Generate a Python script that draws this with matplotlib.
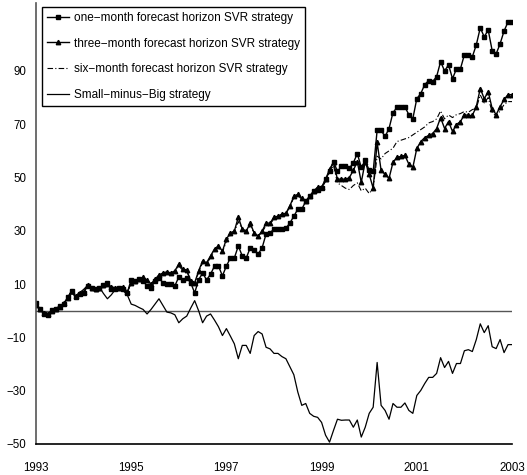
import numpy as np
import matplotlib
matplotlib.use("Agg")
import matplotlib.pyplot as plt

plt.rcParams["font.family"] = ["Liberation Sans", "DejaVu Sans"]

# monthly observations, Jan 1993 .. Jan 2003
dates = 1993 + np.arange(121) / 12

one_month = [
    3.0, 0.7, -1.2, -1.5, 0.3, 0.7, 1.9, 2.6, 5.0, 7.5,
    5.0, 6.4, 6.8, 9.3, 8.7, 8.1, 8.7, 9.5, 10.6, 8.1,
    8.1, 8.7, 8.1, 6.6, 11.5, 11.2, 11.8, 11.2, 9.3, 8.7,
    11.2, 12.4, 10.5, 10.0, 10.0, 9.3, 12.7, 11.6, 12.3, 10.5,
    6.7, 11.6, 14.2, 11.6, 13.7, 16.8, 16.8, 13.1, 16.8, 19.8,
    19.8, 24.3, 20.6, 19.8, 23.6, 22.8, 21.3, 23.6, 28.8, 29.2,
    30.7, 30.5, 30.7, 31.0, 32.9, 35.5, 38.1, 38.1, 41.1, 43.0,
    44.9, 45.5, 46.0, 49.3, 52.3, 56.0, 52.3, 54.2, 54.2, 53.5,
    55.5, 59.0, 53.8, 56.4, 52.7, 52.3, 67.7, 67.7, 65.4, 68.4,
    74.4, 76.3, 76.6, 76.5, 73.6, 72.1, 79.6, 81.5, 84.9, 86.4,
    86.0, 87.9, 93.5, 90.0, 92.3, 87.1, 90.8, 90.8, 96.1, 96.1,
    95.3, 99.8, 106.2, 102.8, 105.4, 97.6, 96.4, 100.2, 105.0, 108.4,
    108.4,
]

three_month = [
    2.0, 0.5, -0.8, -1.2, 0.0, 0.8, 1.5, 2.8, 4.8, 7.5,
    5.5, 6.8, 7.0, 9.5, 8.5, 8.3, 8.5, 9.5, 10.0, 9.0,
    8.5, 8.5, 9.0, 7.0, 10.5, 11.0, 12.0, 12.5, 11.5, 10.0,
    11.8, 13.4, 14.2, 14.6, 14.2, 15.0, 17.5, 15.7, 15.3, 11.2,
    10.5, 15.0, 18.7, 18.0, 20.6, 23.2, 24.3, 22.4, 26.9, 29.2,
    29.9, 35.1, 30.7, 29.9, 32.9, 29.2, 28.0, 29.9, 32.9, 32.9,
    35.1, 35.5, 36.3, 36.6, 39.3, 43.0, 43.7, 42.2, 41.1, 43.0,
    44.9, 46.4, 46.4, 49.3, 53.1, 55.7, 49.3, 49.5, 49.3, 50.0,
    52.7, 56.0, 48.2, 56.0, 51.2, 46.0, 63.2, 52.7, 51.2, 49.7,
    55.7, 57.6, 57.9, 58.3, 55.0, 53.8, 60.9, 63.5, 65.0, 65.8,
    66.5, 68.4, 72.5, 68.4, 71.0, 67.3, 69.9, 71.0, 73.6, 73.3,
    73.3, 76.6, 83.4, 79.6, 82.2, 75.9, 73.6, 76.6, 79.3, 81.1,
    81.1,
]

six_month = [
    2.5, 0.6, -1.0, -1.3, 0.2, 0.8, 1.7, 2.7, 4.9, 7.3,
    5.3, 6.6, 6.9, 9.4, 8.6, 8.2, 8.6, 9.4, 10.2, 8.8,
    8.4, 8.6, 8.7, 7.0, 10.8, 11.0, 11.8, 12.0, 11.0, 9.8,
    11.5, 13.0, 13.6, 14.0, 13.8, 14.5, 16.8, 15.2, 15.0, 11.0,
    10.0, 14.5, 18.0, 17.5, 20.0, 22.5, 23.8, 22.0, 26.0, 28.5,
    29.5, 33.5, 30.5, 29.5, 32.0, 29.0, 28.0, 29.5, 32.0, 32.5,
    34.5, 35.0, 36.0, 36.5, 39.0, 42.5, 43.0, 42.0, 41.0, 42.5,
    44.5, 46.0, 46.0, 48.5, 52.0, 54.5, 48.0, 47.0, 46.0, 45.5,
    47.0, 48.0, 45.0, 46.0, 44.0, 46.0, 58.0, 57.0, 59.0, 60.0,
    61.0, 63.5, 64.0, 64.5, 65.0, 66.0, 67.0, 68.0, 69.0, 70.5,
    71.0, 72.0, 75.0, 72.0, 73.5, 72.5, 73.6, 74.0, 74.8, 74.5,
    75.5, 76.0, 81.0, 78.0, 80.0, 74.5, 73.0, 75.0, 77.4, 78.5,
    78.5,
]

smb = [
    2.5, 0.5, -0.8, -1.0, -0.3, 0.8, 1.5, 2.8, 4.5, 6.5,
    5.5, 6.8, 8.0, 9.5, 9.0, 8.5, 8.8, 6.5, 4.5, 6.0,
    8.0, 8.3, 7.5, 6.0, 2.5, 2.0, 1.2, 0.5, -1.2, 0.5,
    2.5, 4.5, 2.0, -0.5, -0.8, -1.5, -4.5, -3.0, -2.0, 1.0,
    3.8, 0.0, -4.5, -2.0, -1.2, -3.5, -6.0, -9.3, -6.7, -9.5,
    -12.4, -18.0, -13.0, -13.0, -16.0, -9.3, -7.8, -8.7, -13.7, -14.3,
    -16.0, -16.0, -17.2, -18.0, -21.0, -24.0, -30.5, -35.5, -34.8, -38.5,
    -39.6, -40.0, -41.9, -46.7, -49.3, -44.9, -40.7, -41.1, -41.0, -41.0,
    -43.7, -41.0, -47.4, -43.7, -38.5, -36.2, -19.4, -35.5, -37.4, -40.7,
    -34.8, -36.2, -36.2, -34.6, -37.4, -38.5, -31.8, -29.9, -27.3, -25.0,
    -25.0, -23.5, -17.6, -21.3, -19.0, -23.5, -19.8, -19.8, -15.0, -14.6,
    -15.3, -10.8, -4.9, -8.2, -5.6, -13.5, -14.2, -10.8, -15.7, -12.7,
    -12.7,
]

year_ticks = [1993, 1995, 1997, 1999, 2001, 2003]
value_ticks = [-50, -30, -10, 10, 30, 50, 70, 90]

fig = plt.figure(figsize=(5.27, 4.75), dpi=100)
ax = fig.add_axes([36 / 527, 31 / 475, 476 / 527, 441 / 475])

ax.axhline(0, color="#555555", lw=1.0, zorder=1)

ax.plot(dates, one_month, color="black", lw=1.0, marker="s", ms=2.6,
        label="one\u2212month forecast horizon SVR strategy")
ax.plot(dates, three_month, color="black", lw=1.0, marker="^", ms=3.2,
        label="three\u2212month forecast horizon SVR strategy")
ax.plot(dates, six_month, color="black", lw=0.8, dashes=[5, 2, 1, 2],
        label="six\u2212month forecast horizon SVR strategy")
ax.plot(dates, smb, color="black", lw=0.9,
        label="Small\u2212minus\u2212Big strategy")

ax.set_xlim(1993, 2003)
ax.set_ylim(-50, 115.5)
ax.set_xticks(year_ticks)
ax.set_yticks(value_ticks)
ax.tick_params(length=0, labelsize=8.3)
ax.tick_params(axis="y", pad=7)
ax.tick_params(axis="x", pad=13)

for side in ["top", "right"]:
    ax.spines[side].set_visible(False)
ax.spines["left"].set_color("#555555")
ax.spines["bottom"].set_color("black")
ax.spines["left"].set_linewidth(1.2)
ax.spines["bottom"].set_linewidth(1.2)

leg = ax.legend(loc="upper left", bbox_to_anchor=(0.0126, 0.991),
                borderaxespad=0, fontsize=8.45, fancybox=False, framealpha=1,
                edgecolor="black", handlelength=1.9, handletextpad=0.45,
                labelspacing=1.18, borderpad=0.4)
leg.get_frame().set_linewidth(1.0)

fig.savefig("out.png", dpi=100)
